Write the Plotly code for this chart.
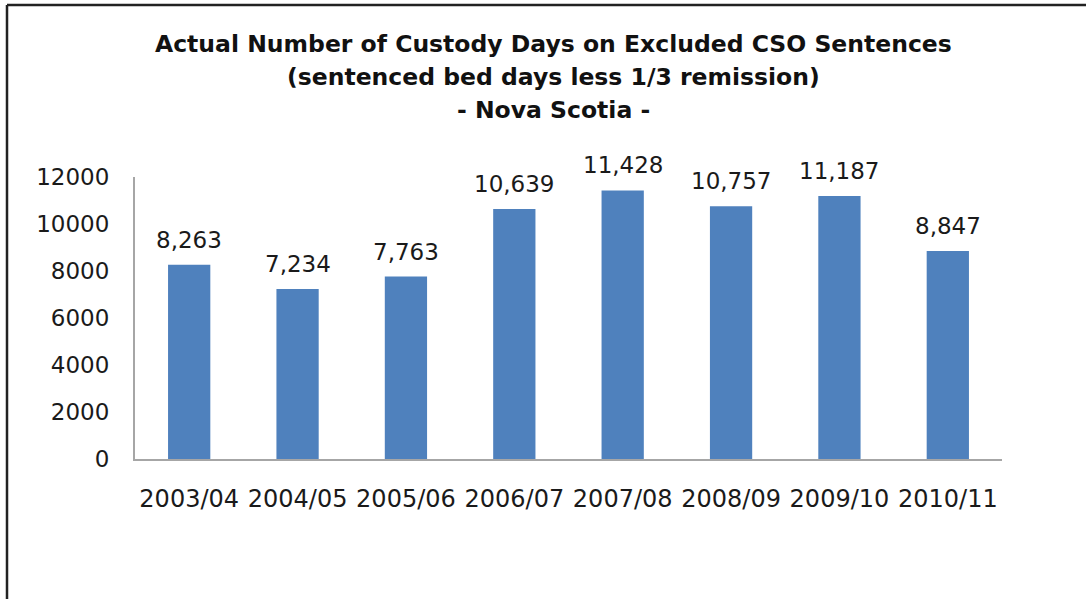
import plotly.graph_objects as go

## DATA
years = ['2003/04', '2004/05', '2005/06', '2006/07', '2007/08', '2008/09', '2009/10', '2010/11']
custody_days = [8263, 7234, 7763, 10639, 11428, 10757, 11187, 8847]
y_ticks = [0, 2000, 4000, 6000, 8000, 10000, 12000]
title_lines = ['Actual Number of Custody Days on Excluded CSO Sentences',
               '(sentenced bed days less 1/3 remission)',
               '- Nova Scotia -']

W, H = 1086, 599
ML, MR, MT, MB = 135, 84, 177, 140
pw, ph = W - ML - MR, H - MT - MB

def px_x(x):  # pixel -> paper
    return (x - ML) / pw

def px_y(y):
    return (H - MB - y) / ph

FONT = 'DejaVu Sans'
TXT = '#1a1a1a'

fig = go.Figure()
fig.add_trace(go.Bar(x=years, y=custody_days, marker_color='#4F81BD', marker_line_width=0,
                     width=0.39, hoverinfo='x+y'))

# value labels above the bars
for yr, v in zip(years, custody_days):
    fig.add_annotation(x=yr, y=v, text=f'{v:,}', showarrow=False, yanchor='bottom',
                       yshift=10, font=dict(family=FONT, size=23, color=TXT))

# title, three lines
for i, line in enumerate(title_lines):
    fig.add_annotation(text='<b>' + line + '</b>', xref='paper', yref='paper',
                       x=px_x(553), y=px_y(44 + 33 * i), showarrow=False,
                       xanchor='center', yanchor='middle',
                       font=dict(family=FONT, size=23.5, color='#111111'))

# frame lines, top and left
fig.add_shape(type='line', xref='paper', yref='paper', x0=px_x(7), x1=px_x(W), y0=px_y(5), y1=px_y(5),
              line=dict(color='#222222', width=2.5))
fig.add_shape(type='line', xref='paper', yref='paper', x0=px_x(7), x1=px_x(7), y0=px_y(5), y1=px_y(H),
              line=dict(color='#222222', width=2.5))

fig.update_layout(width=W, height=H, margin=dict(l=ML, r=MR, t=MT, b=MB),
                  paper_bgcolor='white', plot_bgcolor='white', showlegend=False)
fig.update_xaxes(showline=True, linecolor='#A6A6A6', linewidth=2, ticks='', showgrid=False,
                 tickfont=dict(family=FONT, size=24, color=TXT), ticklabelstandoff=17)
fig.update_yaxes(range=[0, 12000], tickvals=y_ticks, ticktext=[str(t) for t in y_ticks],
                 showline=True, linecolor='#A6A6A6', linewidth=2,
                 ticks='', showgrid=False, zeroline=False,
                 tickfont=dict(family=FONT, size=23, color=TXT), ticklabelstandoff=19)

fig.write_html('out.html', config={'displayModeBar': False},
               post_script="document.body.style.margin='0';")
